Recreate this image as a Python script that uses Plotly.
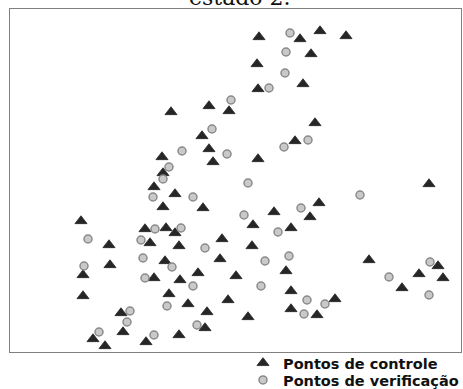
import plotly.graph_objects as go

# Control points (Pontos de controle)
ctrl_x = [259, 300, 320, 346, 311, 257, 303, 258, 171, 209, 229, 315, 202, 295, 209,
          213, 258, 162, 163, 154, 175, 163, 203, 429, 81, 145, 166, 175, 109, 150,
          179, 222, 252, 253, 274, 310, 319, 291, 110, 83, 165, 198, 220, 154, 180,
          236, 286, 169, 83, 188, 228, 121, 207, 248, 291, 291, 317, 335, 205, 123,
          93, 179, 146, 105, 369, 438, 419, 443, 402]
ctrl_y = [315, 313, 321, 316, 298, 288, 268, 263, 240, 246, 241, 229, 216, 211, 203,
          190, 193, 195, 179, 165, 158, 145, 144, 168, 131, 123, 124, 119, 107, 109,
          106, 113, 106, 127, 140, 135, 149, 124, 87, 77, 91, 79, 93, 74, 72,
          76, 81, 58, 56, 48, 52, 39, 40, 35, 61, 43, 37, 53, 24, 20,
          13, 17, 10, 6, 92, 86, 78, 74, 64]

# Check points (Pontos de verificação)
chk_x = [290, 286, 285, 269, 231, 212, 308, 284, 227, 182, 169, 163, 248, 153, 193,
         360, 301, 244, 278, 155, 181, 88, 141, 205, 143, 84, 172, 265, 289, 145,
         193, 261, 167, 307, 325, 304, 130, 127, 197, 99, 154, 430, 389, 429]
chk_y = [319, 300, 279, 264, 252, 223, 212, 205, 198, 201, 185, 173, 169, 155, 155,
         157, 144, 137, 120, 123, 124, 113, 112, 104, 94, 86, 85, 91, 96, 74,
         66, 66, 46, 52, 48, 38, 41, 30, 27, 20, 17, 90, 75, 57]

series_names = ["Pontos de controle", "Pontos de verificação"]
title_text = "estado 2."

fig = go.Figure()
fig.add_trace(go.Scatter(
    x=ctrl_x, y=ctrl_y, mode="markers", name=series_names[0], legend="legend",
    marker=dict(symbol="triangle-up", size=10.5, color="#262626",
                line=dict(color="#262626", width=0.8)),
))
fig.add_trace(go.Scatter(
    x=chk_x, y=chk_y, mode="markers", name=series_names[1], legend="legend2",
    marker=dict(symbol="circle", size=8, color="#c9c9c9",
                line=dict(color="#8a8a8a", width=1.5)),
))

axis_common = dict(showgrid=False, zeroline=False, showticklabels=False,
                   ticks="", showline=True, mirror=True,
                   linecolor="#808080", linewidth=1.2)

legend_font = dict(family="DejaVu Sans", size=14.5, color="#111111", weight="bold")
legend_common = dict(xref="container", yref="container", xanchor="left",
                     yanchor="middle", bgcolor="rgba(0,0,0,0)", borderwidth=0,
                     font=legend_font, itemsizing="trace")

fig.update_layout(
    width=463, height=389,
    margin=dict(l=10, r=2, t=9, b=37, autoexpand=False),
    paper_bgcolor="white", plot_bgcolor="white",
    xaxis=dict(range=[10, 461], **axis_common),
    yaxis=dict(range=[0, 343], **axis_common),
    showlegend=True,
    legend=dict(x=243 / 463, y=(389 - 363) / 389, **legend_common),
    legend2=dict(x=243 / 463, y=(389 - 380) / 389, **legend_common),
    annotations=[dict(
        text=title_text, xref="paper", yref="paper", x=0.51, y=1.034,
        xanchor="center", yanchor="middle", showarrow=False,
        font=dict(family="DejaVu Serif", size=22, color="#111111"),
    )],
)

fig.write_html("out.html")
